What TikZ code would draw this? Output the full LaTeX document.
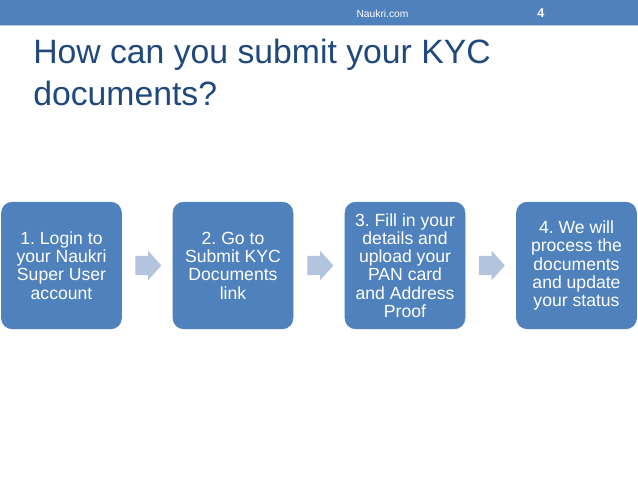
\documentclass[tikz,border=0pt]{standalone}
\usepackage{fontspec}
\setmainfont{Liberation Sans}
\usetikzlibrary{shapes.arrows}
\definecolor{band}{HTML}{4F81BD}
\definecolor{ttl}{HTML}{1F497D}
\definecolor{arr}{HTML}{B3C4DF}
\definecolor{bandedge}{HTML}{B9CDE5}
\tikzset{
 px/.style={x=0.75pt,y=-0.75pt},
 stepbox/.style={draw=band,fill=band,rounded corners=8pt,minimum width=90pt,minimum height=95pt,inner sep=0pt,text=white,align=center,font=\fontsize{13.2pt}{13.7pt}\selectfont,anchor=center},
 flow/.style={fill=arr,draw=none,shape=single arrow,single arrow head extend=3.75pt,single arrow tip angle=96,minimum height=19.5pt,inner xsep=0pt,inner ysep=7.1pt,anchor=center}
}
\begin{document}
\begin{tikzpicture}[px]
\frenchspacing
\useasboundingbox (0,0) rectangle (638,479);
\fill[white] (0,0) rectangle (638,479);
\fill[band] (0,0) rectangle (638,25);
\fill[bandedge] (0,25) rectangle (638,26);
\node[text=white,font=\fontsize{7.7pt}{10pt}\selectfont,anchor=center] (src) at (382.5,13.5) {Naukri.com};
\node[text=white,font=\bfseries\fontsize{9.5pt}{11pt}\selectfont,anchor=center] (num) at (541,13) {4};
\node[text=ttl,font=\fontsize{25.3pt}{31.3pt}\selectfont,align=left,anchor=north west,inner sep=0pt] (title) at (33,39) {How can you submit your KYC\\documents?};
\node[stepbox] (a) at (61.5,265.5) {1. Login to\\your Naukri\\Super User\\account};
\node[stepbox] (b) at (233,265.5) {2. Go to\\Submit KYC\\Documents\\link};
\node[stepbox] (c) at (405,265.5) {3. Fill in your\\details and\\upload your\\PAN card\\and Address\\Proof};
\node[stepbox] (d) at (576.5,265.5) {4. We will\\process the\\documents\\and update\\your status};
\node[flow] (f1) at (144,265.5) {};
\node[flow] (f2) at (316,265.5) {};
\node[flow] (f3) at (487.5,265.5) {};
\end{tikzpicture}
\end{document}
